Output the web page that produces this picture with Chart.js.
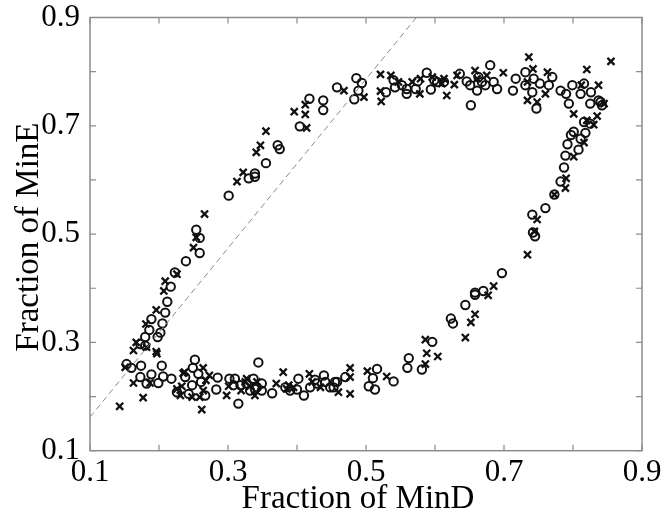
<!DOCTYPE html>
<html>
<head>
<meta charset="utf-8">
<script src="https://cdn.jsdelivr.net/npm/chart.js@4.4.0/dist/chart.umd.min.js"></script>
<style>
html,body{margin:0;padding:0;background:#fff;}
canvas{display:block;}
</style>
</head>
<body>
<canvas id="c" width="663" height="512"></canvas>
<script>
// ---- data ----
const circleX = [0.223,0.217,0.212,0.209,0.189,0.205,0.186,0.202,0.198,0.180,0.173,0.180,0.153,0.160,0.174,0.204,0.252,0.238,0.257,0.285,
0.173,0.189,0.182,0.199,0.206,0.218,0.248,0.261,0.226,0.243,0.267,0.283,0.302,0.310,0.315,0.318,0.337,0.342,0.344,0.249,
0.239,0.259,0.254,0.259,0.301,0.330,0.339,0.339,0.355,0.372,0.375,0.404,0.418,0.438,0.438,0.458,0.483,0.486,0.494,0.489,
0.529,0.540,0.542,0.552,0.559,0.559,0.572,0.575,0.588,0.594,0.599,0.603,0.613,0.636,0.652,0.646,0.651,0.663,0.661,0.668,
0.673,0.680,0.685,0.690,0.717,0.713,0.731,0.731,0.743,0.741,0.747,0.752,0.770,0.765,0.782,0.790,0.799,0.794,0.811,0.816,
0.826,0.825,0.837,
0.760,0.773,0.782,0.787,0.789,0.792,0.808,0.797,0.801,0.811,0.818,0.816,0.825,0.840,0.842,0.741,
0.745,0.742,0.697,0.670,0.658,0.658,0.644,0.623,0.626,0.596,0.581,0.562,0.560,0.516,0.510,0.504,0.513,0.540,0.470,0.458,0.453,
0.349,0.339,0.349,0.364,0.390,0.402,0.400,0.410,0.419,0.426,0.429,0.439,0.441,0.448,0.455,0.308,0.327,0.332,0.383];
const circleY = [0.429,0.403,0.375,0.355,0.343,0.335,0.323,0.318,0.310,0.310,0.297,0.294,0.260,0.253,0.257,0.257,0.268,0.236,0.242,0.235,
0.236,0.241,0.224,0.225,0.237,0.233,0.221,0.227,0.208,0.205,0.202,0.213,0.233,0.233,0.187,0.221,0.233,0.217,0.263,0.253,
0.450,0.465,0.508,0.493,0.571,0.603,0.612,0.606,0.631,0.664,0.657,0.699,0.750,0.747,0.729,0.771,0.749,0.788,0.779,0.765,
0.762,0.784,0.771,0.775,0.768,0.759,0.768,0.782,0.798,0.767,0.784,0.781,0.781,0.796,0.738,0.782,0.775,0.790,0.765,0.781,
0.775,0.812,0.781,0.768,0.787,0.765,0.799,0.775,0.787,0.762,0.732,0.778,0.790,0.775,0.765,0.759,0.775,0.741,0.759,0.778,
0.762,0.741,0.747,
0.548,0.573,0.597,0.623,0.645,0.666,0.656,0.683,0.689,0.676,0.687,0.707,0.704,0.744,0.738,0.536,
0.496,0.503,0.428,0.395,0.392,0.388,0.369,0.344,0.335,0.301,0.250,0.271,0.253,0.251,0.234,0.219,0.213,0.228,0.236,0.227,0.217,
0.224,0.214,0.211,0.206,0.211,0.233,0.213,0.202,0.217,0.231,0.224,0.239,0.227,0.217,0.227,0.221,0.224,0.211,0.217];

const crossX = [0.226,0.209,0.207,0.196,0.181,0.167,0.182,0.163,0.196,0.197,0.151,0.235,0.264,0.163,0.187,0.233,0.268,0.231,0.248,0.259,
0.301,0.298,0.327,0.332,0.339,0.143,0.177,0.262,0.380,0.237,0.226,0.264,0.273,0.319,0.325,0.370,0.388,0.418,
0.250,0.254,0.266,0.313,0.322,0.341,0.347,0.355,0.414,0.396,0.412,0.412,0.468,0.497,
0.521,0.521,0.522,0.536,0.547,0.567,0.578,0.579,0.596,0.613,0.610,0.617,0.628,0.632,0.658,0.661,0.675,0.699,
0.736,0.742,0.734,0.734,0.748,0.763,0.760,0.812,0.820,0.837,0.845,0.855,0.801,0.835,
0.773,0.789,0.790,0.801,0.816,0.820,0.830,
0.734,0.685,0.677,0.658,0.652,0.644,0.586,0.588,0.604,0.586,0.502,0.530,0.477,0.477,0.460,
0.385,0.395,0.422,0.434,0.477,0.342,0.744,0.748];
const crossY = [0.426,0.413,0.395,0.360,0.334,0.300,0.291,0.285,0.283,0.279,0.254,0.243,0.253,0.225,0.225,0.219,0.230,0.202,0.199,0.199,
0.219,0.202,0.233,0.219,0.202,0.182,0.198,0.176,0.245,0.245,0.214,0.211,0.239,0.211,0.227,0.224,0.221,0.242,
0.475,0.494,0.537,0.597,0.614,0.651,0.664,0.690,0.696,0.726,0.721,0.739,0.765,0.753,
0.795,0.764,0.745,0.793,0.781,0.781,0.759,0.787,0.790,0.787,0.778,0.756,0.776,0.793,0.802,0.787,0.793,0.798,
0.827,0.805,0.781,0.747,0.744,0.799,0.759,0.775,0.804,0.775,0.741,0.819,0.722,0.718,
0.573,0.585,0.603,0.643,0.669,0.710,0.702,
0.462,0.404,0.387,0.352,0.337,0.309,0.305,0.280,0.274,0.260,0.247,0.237,0.253,0.205,0.208,
0.214,0.217,0.227,0.217,0.236,0.227,0.505,0.527];

const diagX = [0.1, 0.573];
const diagY = [0.162, 0.9];

const xTickLabels = ['0.1','0.3','0.5','0.7','0.9'];
const yTickLabels = ['0.1','0.3','0.5','0.7','0.9'];
const tickMarks = [0.1,0.2,0.3,0.4,0.5,0.6,0.7,0.8,0.9];
const xTitle = 'Fraction of MinD';
const yTitle = 'Fraction of MinE';

// ---- chart ----
const zip = (xs, ys) => xs.map((x, i) => ({x, y: ys[i]}));
const AXIS_COLOR = '#8c8c8c';
const SERIF = '"Liberation Serif", "Times New Roman", serif';

const framePlugin = {
  id: 'frame',
  afterDatasetsDraw(chart) {
    const {ctx, chartArea: a, scales: {x, y}} = chart;
    ctx.save();
    ctx.strokeStyle = AXIS_COLOR;
    ctx.lineWidth = 1.5;
    ctx.strokeRect(a.left, a.top, a.right - a.left, a.bottom - a.top);
    ctx.lineWidth = 1.2;
    const L = 6;
    ctx.beginPath();
    tickMarks.forEach(v => {
      const px = x.getPixelForValue(v);
      ctx.moveTo(px, a.bottom); ctx.lineTo(px, a.bottom - L);
      ctx.moveTo(px, a.top); ctx.lineTo(px, a.top + L);
      const py = y.getPixelForValue(v);
      ctx.moveTo(a.left, py); ctx.lineTo(a.left + L, py);
      ctx.moveTo(a.right, py); ctx.lineTo(a.right - L, py);
    });
    ctx.stroke();
    // axis titles
    ctx.fillStyle = '#000';
    ctx.font = '33px ' + SERIF;
    ctx.textAlign = 'center';
    ctx.textBaseline = 'alphabetic';
    ctx.fillText(xTitle, 358, 508);
    ctx.translate(38, (a.top + a.bottom) / 2 + 3);
    ctx.rotate(-Math.PI / 2);
    ctx.fillText(yTitle, 0, 0);
    ctx.restore();
  }
};

const tickFont = {family: SERIF, size: 31, lineHeight: 1};

new Chart(document.getElementById('c'), {
  type: 'scatter',
  data: {
    datasets: [
      {
        type: 'line',
        data: zip(diagX, diagY),
        borderColor: '#8a8a8a',
        borderWidth: 1,
        borderDash: [6, 4],
        pointRadius: 0,
        fill: false
      },
      {
        data: zip(circleX, circleY),
        pointStyle: 'circle',
        pointRadius: 4.2,
        pointBorderWidth: 2,
        pointBorderColor: '#111',
        pointBackgroundColor: 'rgba(0,0,0,0)'
      },
      {
        data: zip(crossX, crossY),
        pointStyle: 'crossRot',
        pointRadius: 5,
        pointBorderWidth: 2.3,
        pointBorderColor: '#111',
        pointBackgroundColor: '#111'
      }
    ]
  },
  options: {
    responsive: false,
    animation: false,
    devicePixelRatio: 1,
    layout: {padding: {top: 15, right: 21, left: 0, bottom: 0}},
    plugins: {legend: {display: false}, tooltip: {enabled: false}},
    scales: {
      x: {
        type: 'linear', min: 0.1, max: 0.9,
        grid: {display: false}, border: {display: false},
        afterBuildTicks: s => { s.ticks = xTickLabels.map(t => ({value: parseFloat(t)})); },
        afterFit: s => { s.height = 61.3; },
        ticks: {
          font: tickFont, color: '#000', padding: -1, maxRotation: 0, autoSkip: false,
          callback: (v) => xTickLabels.find(t => Math.abs(parseFloat(t) - v) < 1e-6) || ''
        },
        title: {display: false, text: xTitle}
      },
      y: {
        type: 'linear', min: 0.1, max: 0.9,
        grid: {display: false}, border: {display: false},
        afterBuildTicks: s => { s.ticks = yTickLabels.map(t => ({value: parseFloat(t)})); },
        afterFit: s => { s.width = 90; },
        ticks: {
          font: tickFont, color: '#000', padding: 2, autoSkip: false,
          callback: (v) => yTickLabels.find(t => Math.abs(parseFloat(t) - v) < 1e-6) || ''
        },
        title: {display: false, text: yTitle}
      }
    }
  },
  plugins: [framePlugin]
});
</script>
</body>
</html>
